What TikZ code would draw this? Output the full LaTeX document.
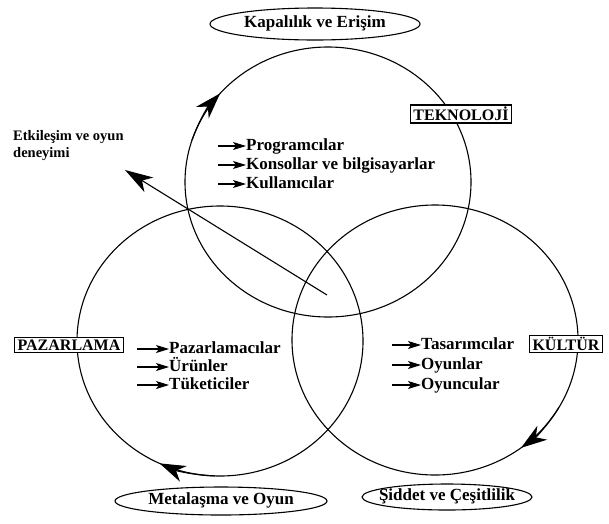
\documentclass[tikz,border=0pt]{standalone}
\usepackage{fontspec}
\setmainfont{Liberation Serif}
\usetikzlibrary{arrows.meta}
\begin{document}
\begin{tikzpicture}[x=1pt,y=-1pt,
  ring/.style={line width=1.1pt},
  lbl/.style={font=\bfseries\fontsize{17}{19}\selectfont, inner sep=0pt},
  smalllbl/.style={font=\bfseries\fontsize{14.5}{17}\selectfont, inner sep=0pt, align=left},
  boxlbl/.style={draw, fill=white, line width=1.4pt, font=\bfseries\fontsize{16}{18}\selectfont, inner xsep=3pt, inner ysep=2pt},
  listarrow/.style={line width=1.1pt, -{Stealth[length=13pt,width=8pt,inset=3pt]}},
  ringarrow/.style={line width=1.2pt, -{Stealth[length=26pt,width=17pt,inset=8pt]}},
  ovalline/.style={line width=1.1pt}
]
\useasboundingbox (0,0) rectangle (609,523);
\fill[white] (0,0) rectangle (609,523);

% three rings
\coordinate (ct) at (328,182);
\coordinate (cl) at (220,341);
\coordinate (cr) at (435,340);
\draw[ring] (ct) ellipse [x radius=143, y radius=135];
\draw[ring] (cl) ellipse [x radius=143, y radius=135];
\draw[ring] (cr) ellipse [x radius=143, y radius=135];

% clockwise arrowheads on rings
\draw[ringarrow] ([shift={(198:143 and 135)}]ct) arc[start angle=198, end angle=221, x radius=143, y radius=135];
\draw[ringarrow] ([shift={(30:143 and 135)}]cr) arc[start angle=30, end angle=53, x radius=143, y radius=135];
\draw[ringarrow] ([shift={(92:143 and 135)}]cl) arc[start angle=92, end angle=115, x radius=143, y radius=135];

% diagonal arrow
\coordinate (dstart) at (327,295);
\coordinate (dend) at (125,170);
\draw[line width=1.1pt, -{Stealth[length=28pt,width=17pt,inset=8pt]}] (dstart) -- (dend);
\node[smalllbl, anchor=north west] (etk) at (13,130) {Etkileşim ve oyun\\deneyimi};

% boxes
\node[boxlbl] (tek) at (461,114) {TEKNOLOJİ};
\node[boxlbl] (paz) at (69,345) {PAZARLAMA};
\node[boxlbl] (kul) at (566,344) {KÜLTÜR};

% ellipses
\node[lbl] (kap) at (315,23) {Kapalılık ve Erişim};
\draw[ovalline] (315,24) ellipse [x radius=105, y radius=16];
\node[lbl] (met) at (221,500) {Metalaşma ve Oyun};
\draw[ovalline] (221,501) ellipse [x radius=106, y radius=14];
\node[lbl] (sid) at (447,496) {Şiddet ve Çeşitlilik};
\draw[ovalline] (447,497) ellipse [x radius=85, y radius=13];

% technology list
\coordinate (a1) at (218,146);
\coordinate (a2) at (218,165);
\coordinate (a3) at (218,184);
\node[lbl, anchor=base west] (t1) at (246,150) {Programcılar};
\node[lbl, anchor=base west] (t2) at (246,169) {Konsollar ve bilgisayarlar};
\node[lbl, anchor=base west] (t3) at (246,188) {Kullanıcılar};
\draw[listarrow] (a1) -- (a1 -| t1.west);
\draw[listarrow] (a2) -- (a2 -| t2.west);
\draw[listarrow] (a3) -- (a3 -| t3.west);

% marketing list
\coordinate (b1) at (137,349);
\coordinate (b2) at (137,367);
\coordinate (b3) at (137,385);
\node[lbl, anchor=base west] (m1) at (169,353) {Pazarlamacılar};
\node[lbl, anchor=base west] (m2) at (169,371) {Ürünler};
\node[lbl, anchor=base west] (m3) at (169,389) {Tüketiciler};
\draw[listarrow] (b1) -- (b1 -| m1.west);
\draw[listarrow] (b2) -- (b2 -| m2.west);
\draw[listarrow] (b3) -- (b3 -| m3.west);

% culture list
\coordinate (c1) at (392,345);
\coordinate (c2) at (392,365);
\coordinate (c3) at (392,385);
\node[lbl, anchor=base west] (k1) at (421,349) {Tasarımcılar};
\node[lbl, anchor=base west] (k2) at (421,369) {Oyunlar};
\node[lbl, anchor=base west] (k3) at (421,389) {Oyuncular};
\draw[listarrow] (c1) -- (c1 -| k1.west);
\draw[listarrow] (c2) -- (c2 -| k2.west);
\draw[listarrow] (c3) -- (c3 -| k3.west);
\end{tikzpicture}
\end{document}
